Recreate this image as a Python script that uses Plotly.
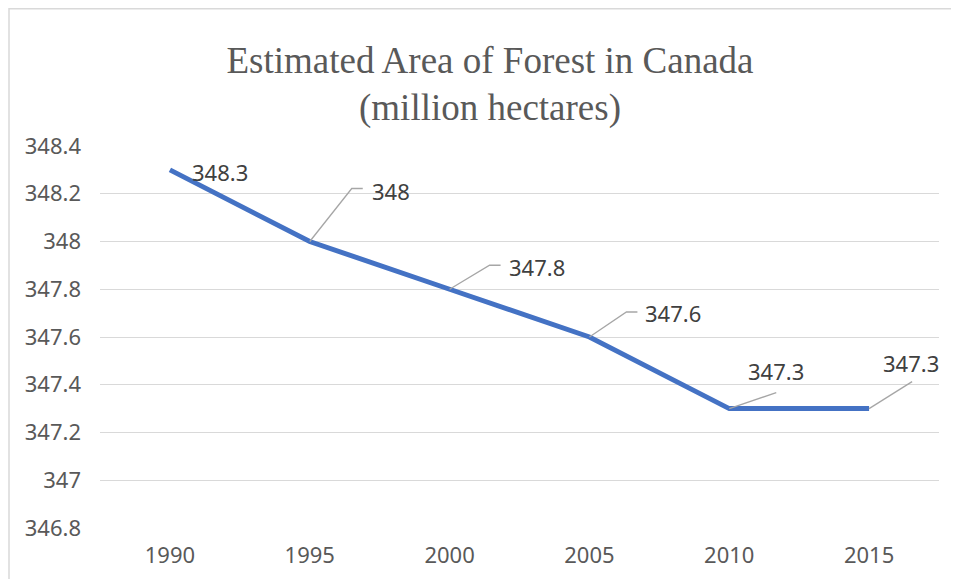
import plotly.graph_objects as go

years = [1990, 1995, 2000, 2005, 2010, 2015]
forest_area = [348.3, 348.0, 347.8, 347.6, 347.3, 347.3]
label_text = ["348.3", "348", "347.8", "347.6", "347.3", "347.3"]
y_ticks = [346.8, 347.0, 347.2, 347.4, 347.6, 347.8, 348.0, 348.2, 348.4]
y_tick_text = ["346.8", "347", "347.2", "347.4", "347.6", "347.8", "348", "348.2", "348.4"]
title_line1 = "Estimated Area of Forest in Canada"
title_line2 = "(million hectares)"

# label offsets (pixels) and leader-line paths (pixels relative to the point)
label_shift = [(50, -2), (81, 51), (87, 22), (84, 24), (47, 38), (42, 46)]
leader_paths = [None,
                "M 0 0 L 42 53 L 53 53",
                "M 0 0 L 40 24 L 51 24",
                "M 0 0 L 37 25 L 48 25",
                "M 0 0 L 47 16",
                "M 0 0 L 43 27"]

FONT = "Noto Sans"
L, R, T, B = 92, 28, 138, 59
PW, PH = 959 - L - R, 579 - T - B

fig = go.Figure()
fig.add_trace(go.Scatter(x=years, y=forest_area, mode="lines",
                         line=dict(color="#4472C4", width=5),
                         hoverinfo="x+y", showlegend=False))

for x, y, t, (dx, dy), p in zip(years, forest_area, label_text, label_shift, leader_paths):
    fig.add_annotation(x=x, y=y, xref="x", yref="y", text=t, showarrow=False,
                       xshift=dx, yshift=dy,
                       font=dict(family=FONT, size=22, color="#404040"))
    if p:
        fig.add_shape(type="path", path=p, xref="x", yref="y",
                      xsizemode="pixel", ysizemode="pixel", xanchor=x, yanchor=y,
                      line=dict(color="#A6A6A6", width=1.3))

# second title line
fig.add_annotation(text=title_line2, xref="paper", yref="paper",
                   x=(482 - L) / PW, y=1 + (T - 100) / PH, xanchor="center", yanchor="middle",
                   showarrow=False,
                   font=dict(family="Liberation Serif", size=37, color="#595959"))

# chart border
fig.add_shape(type="rect", xref="paper", yref="paper",
              x0=(1 - L) / PW, x1=1.2, y0=-0.5, y1=1 + (T - 0.7) / PH,
              line=dict(color="#D9D9D9", width=1.5), layer="below")

fig.update_layout(
    width=959, height=579,
    margin=dict(l=L, r=R, t=T, b=B),
    paper_bgcolor="white", plot_bgcolor="white",
    title=dict(text=title_line1, xref="container", x=482 / 959, xanchor="center",
               yref="container", y=1 - 52 / 579, yanchor="middle",
               font=dict(family="Liberation Serif", size=37, color="#595959")),
    xaxis=dict(range=[1987.5, 2017.5], tickvals=years, ticktext=[str(v) for v in years],
               showgrid=False, zeroline=False, showline=False,
               tickfont=dict(family=FONT, size=22, color="#595959"),
               ticklabelstandoff=12),
    yaxis=dict(range=[346.8, 348.4], tickvals=y_ticks, ticktext=y_tick_text,
               showgrid=True, gridcolor="#D9D9D9", gridwidth=1.3, zeroline=False,
               showline=False,
               tickfont=dict(family=FONT, size=22, color="#595959"),
               ticklabelstandoff=18),
)

fig.write_html("out.html")
